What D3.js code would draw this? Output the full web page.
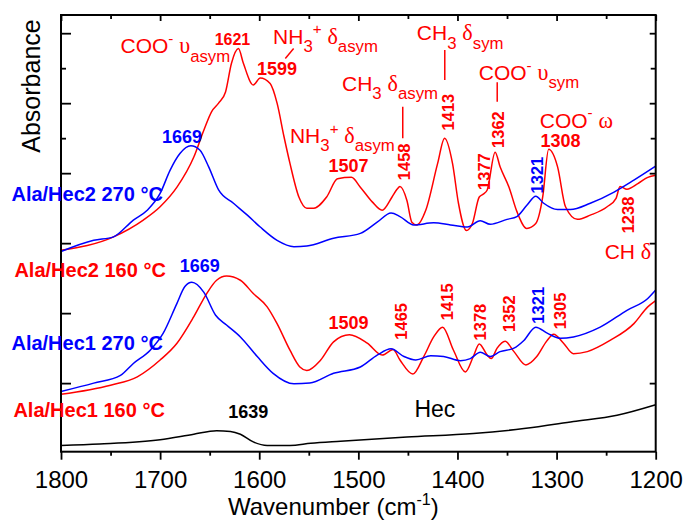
<!DOCTYPE html>
<html><head><meta charset="utf-8">
<script src="https://cdn.jsdelivr.net/npm/d3@7"></script>
<style>body{margin:0;background:#fff}svg{display:block}text{white-space:pre}</style>
</head><body><svg id="chart" width="684" height="522"></svg>
<script>
// ---------- data ----------
const xTicks = [1800, 1700, 1600, 1500, 1400, 1300, 1200];
const xMinorTicks = [1750, 1650, 1550, 1450, 1350, 1250];
const yTicks = [0, 1, 2, 3, 4, 5];
const yMinorTicks = [3.5, 4.5];

const hec = [[1800,-0.89],[1761,-0.87],[1700,-0.81],[1666,-0.73],[1643,-0.68],[1629,-0.69],[1619,-0.73],[1606,-0.84],[1592,-0.89],[1569,-0.89],[1548,-0.86],[1518,-0.83],[1451,-0.77],[1384,-0.72],[1333,-0.65],[1283,-0.55],[1239,-0.46],[1200,-0.31]];

const hec1_160 = [[1800,-0.16],[1750,-0.03],[1723,0.09],[1700,0.33],[1683,0.57],[1666,0.95],[1653,1.28],[1643,1.47],[1633,1.53],[1619,1.47],[1606,1.28],[1592,1.09],[1582,0.85],[1569,0.47],[1559,0.23],[1552,0.18],[1538,0.33],[1525,0.59],[1509,0.69],[1491,0.57],[1476,0.40],[1465,0.48],[1458,0.33],[1445,0.13],[1434,0.38],[1424,0.66],[1415,0.80],[1404,0.47],[1392,0.16],[1384,0.38],[1378,0.56],[1370,0.40],[1366,0.35],[1360,0.50],[1352,0.60],[1343,0.45],[1331,0.26],[1320,0.38],[1310,0.60],[1303,0.70],[1293,0.57],[1283,0.42],[1269,0.45],[1246,0.61],[1222,0.85],[1208,1.09],[1200,1.18]];

const hec1_270 = [[1800,-0.12],[1767,0.00],[1740,0.11],[1727,0.28],[1710,0.47],[1697,0.71],[1683,1.14],[1675,1.38],[1668,1.44],[1656,1.30],[1644,0.97],[1633,0.83],[1619,0.66],[1602,0.38],[1586,0.14],[1565,-0.01],[1549,0.00],[1525,0.14],[1498,0.23],[1481,0.40],[1467,0.49],[1454,0.38],[1442,0.33],[1427,0.39],[1414,0.38],[1397,0.32],[1387,0.35],[1377,0.44],[1367,0.38],[1357,0.45],[1343,0.50],[1333,0.61],[1321,0.80],[1309,0.71],[1296,0.64],[1283,0.66],[1256,0.80],[1229,1.04],[1208,1.21],[1200,1.33]];

const hec2_160 = [[1800,1.90],[1747,2.09],[1717,2.33],[1700,2.52],[1683,2.80],[1666,3.23],[1656,3.61],[1648,3.88],[1641,4.00],[1634,4.16],[1628,4.57],[1621,4.78],[1616,4.57],[1606,4.26],[1599,4.36],[1589,4.28],[1582,4.00],[1575,3.52],[1569,3.14],[1560,2.66],[1552,2.50],[1545,2.50],[1532,2.66],[1521,2.92],[1507,2.94],[1498,2.80],[1486,2.59],[1476,2.47],[1466,2.66],[1461,2.77],[1458,2.81],[1451,2.61],[1446,2.30],[1441,2.26],[1432,2.47],[1420,3.14],[1413,3.50],[1405,3.14],[1399,2.57],[1391,2.18],[1385,2.28],[1378,2.66],[1374,2.70],[1370,2.76],[1362,3.30],[1357,3.09],[1348,2.80],[1340,2.45],[1330,2.21],[1321,2.28],[1314,2.66],[1308,3.34],[1299,3.09],[1291,2.52],[1279,2.34],[1266,2.40],[1249,2.52],[1240,2.64],[1236,2.81],[1229,2.77],[1218,2.85],[1208,2.94],[1200,2.97]];

const hec2_270 = [[1800,1.88],[1767,2.04],[1747,2.09],[1727,2.33],[1713,2.47],[1700,2.71],[1690,3.04],[1680,3.28],[1669,3.39],[1660,3.33],[1651,3.09],[1641,2.76],[1626,2.57],[1612,2.40],[1599,2.23],[1582,2.04],[1565,1.95],[1552,1.96],[1525,2.07],[1498,2.14],[1481,2.30],[1467,2.43],[1458,2.38],[1444,2.26],[1424,2.29],[1407,2.26],[1390,2.23],[1377,2.32],[1367,2.27],[1350,2.34],[1340,2.38],[1330,2.54],[1321,2.67],[1313,2.57],[1299,2.48],[1286,2.48],[1266,2.57],[1242,2.73],[1222,2.90],[1200,3.10]];

const seriesNames = ["Hec", "Ala/Hec1 160 °C", "Ala/Hec1 270 °C", "Ala/Hec2 160 °C", "Ala/Hec2 270 °C"];
const seriesColors = ["#000000", "#ff0000", "#0000ff", "#ff0000", "#0000ff"];
const seriesData = [hec, hec1_160, hec1_270, hec2_160, hec2_270];

// series name labels at [wn, value] (Hec is labelled separately)
const seriesLabelPos = [null, [1848, -0.49], [1850, 0.47], [1847, 1.52], [1850, 2.60]];

// horizontal peak labels: text, wn, value, color, size
const peakLabels = [
  ["1669", 1678, 3.43, "#0000ff", 18],
  ["1621", 1627, 4.83, "#ff0000", 16],
  ["1599", 1582, 4.40, "#ff0000", 18],
  ["1507", 1510, 3.02, "#ff0000", 18],
  ["1308", 1296, 3.38, "#ff0000", 18],
  ["1669", 1660, 1.59, "#0000ff", 18],
  ["1509", 1510, 0.78, "#ff0000", 18],
  ["1639", 1611, -0.50, "#000000", 18]
];
// vertical peak labels: text, wn (baseline), value (bottom), color
const vPeakLabels = [
  ["1458", 1448, 2.90, "#ff0000"],
  ["1413", 1403, 3.61, "#ff0000"],
  ["1377", 1367, 2.76, "#ff0000"],
  ["1362", 1353, 3.36, "#ff0000"],
  ["1321", 1314, 2.71, "#0000ff"],
  ["1238", 1222, 2.14, "#ff0000"],
  ["1465", 1451, 0.62, "#ff0000"],
  ["1415", 1405, 0.90, "#ff0000"],
  ["1378", 1371, 0.61, "#ff0000"],
  ["1352", 1342, 0.73, "#ff0000"],
  ["1321", 1313, 0.85, "#0000ff"],
  ["1305", 1291, 0.77, "#ff0000"]
];
// band assignments (rich text): segments, wn, value
const bandLabels = [
  [[["COO"],["-","sup"],[" "],["υ","g"],["asym","sub"]], 1740, 4.71],
  [[["NH"],["3","sub"],["+","sup"],[" "],["δ","g"],["asym","sub"]], 1586, 4.85],
  [[["CH"],["3","sub"],[" "],["δ","g"],["sym","sub"]], 1441, 4.90],
  [[["CH"],["3","sub"],[" "],["δ","g"],["asym","sub"]], 1516.5, 4.18],
  [[["NH"],["3","sub"],["+","sup"],[" "],["δ","g"],["asym","sub"]], 1569, 3.43],
  [[["COO"],["-","sup"],[" "],["υ","g"],["sym","sub"]], 1378.5, 4.33],
  [[["COO"],["-","sup"],[" "],["ω","g"]], 1317, 3.65],
  [[["CH "],["δ","g"]], 1251.5, 1.78]
];
// connector lines: wn1, v1, wn2, v2
const connectors = [
  [1573.7, 4.64, 1565.3, 4.78],
  [1412.8, 4.76, 1412.8, 4.33],
  [1455.2, 3.95, 1455.2, 3.50],
  [1359.9, 4.30, 1359.9, 4.02]
];
const hecLabel = ["Hec", 1443.4, -0.49];

// ---------- chart ----------
const svg = d3.select("#chart");
const SANS = "'Liberation Sans', Arial, sans-serif";
const SERIF = "'Liberation Serif', 'Times New Roman', serif";
const x = d3.scaleLinear().domain([1800, 1200]).range([61, 655.7]);
const y = d3.scaleLinear().domain([-0.98, 5.26]).range([451.7, 15]);
const [x0, x1] = x.range(), [yb, yt] = y.range();

function styleAxis(g) {
  g.select(".domain").remove();
  g.selectAll(".tick line").attr("stroke", "#000").attr("stroke-width", 1.8);
}
// bottom
svg.append("g").attr("transform", `translate(0,${yb})`)
  .call(d3.axisBottom(x).tickValues(xTicks).tickSize(8).tickPadding(11).tickFormat(d3.format("d")))
  .call(styleAxis)
  .call(g => g.selectAll("text").attr("font-size", 24).attr("font-family", SANS).attr("fill", "#000"));
svg.append("g").attr("transform", `translate(0,${yb})`)
  .call(d3.axisBottom(x).tickValues(xMinorTicks).tickSize(4).tickFormat("")).call(styleAxis);
// top
svg.append("g").attr("transform", `translate(0,${yt})`)
  .call(d3.axisTop(x).tickValues(xTicks).tickSize(-6).tickFormat("")).call(styleAxis);
svg.append("g").attr("transform", `translate(0,${yt})`)
  .call(d3.axisTop(x).tickValues(xMinorTicks).tickSize(-4).tickFormat("")).call(styleAxis);
// left
svg.append("g").attr("transform", `translate(${x0},0)`)
  .call(d3.axisLeft(y).tickValues(yTicks).tickSize(-10).tickFormat("")).call(styleAxis);
svg.append("g").attr("transform", `translate(${x0},0)`)
  .call(d3.axisLeft(y).tickValues(yMinorTicks).tickSize(-5).tickFormat("")).call(styleAxis);
// right
svg.append("g").attr("transform", `translate(${x1},0)`)
  .call(d3.axisRight(y).tickValues(yTicks).tickSize(-6).tickFormat("")).call(styleAxis);
svg.append("g").attr("transform", `translate(${x1},0)`)
  .call(d3.axisRight(y).tickValues(yMinorTicks).tickSize(-5).tickFormat("")).call(styleAxis);

// curves
const line = d3.line().x(d => x(d[0])).y(d => y(d[1])).curve(d3.curveMonotoneX);
seriesData.forEach((s, i) => {
  svg.append("path").datum(s).attr("d", line).attr("fill", "none")
    .attr("stroke", seriesColors[i]).attr("stroke-width", 1.5);
});

// frame
svg.append("rect").attr("x", x0).attr("y", yt).attr("width", x1 - x0).attr("height", yb - yt)
  .attr("fill", "none").attr("stroke", "#000").attr("stroke-width", 2);

// axis titles
svg.append("text").attr("transform", `translate(${x0 - 21.5},86) rotate(-90)`)
  .attr("text-anchor", "middle").attr("font-family", SANS).attr("font-size", 25).text("Absorbance");
{
  const t = svg.append("text").attr("x", 228).attr("y", 515).attr("font-family", SANS).attr("font-size", 24);
  t.append("tspan").text("Wavenumber (cm");
  t.append("tspan").attr("font-size", 16).attr("dy", -10).text("-1");
  t.append("tspan").attr("dy", 10).text(")");
}

// series labels
seriesNames.forEach((n, i) => {
  const p = seriesLabelPos[i];
  if (!p) return;
  svg.append("text").attr("x", x(p[0])).attr("y", y(p[1]))
    .attr("font-family", SANS).attr("font-weight", "bold").attr("font-size", 20)
    .attr("fill", seriesColors[i]).text(n);
});
svg.append("text").attr("x", x(hecLabel[1])).attr("y", y(hecLabel[2]))
  .attr("font-family", SANS).attr("font-size", 23).attr("fill", "#000").text(hecLabel[0]);

// peak labels
peakLabels.forEach(([t, wn, v, c, fs]) => {
  svg.append("text").attr("x", x(wn)).attr("y", y(v)).attr("text-anchor", "middle")
    .attr("font-family", SANS).attr("font-weight", "bold").attr("font-size", fs).attr("fill", c).text(t);
});
vPeakLabels.forEach(([t, wn, v, c]) => {
  svg.append("text").attr("transform", `translate(${x(wn)},${y(v)}) rotate(-90)`)
    .attr("font-family", SANS).attr("font-weight", "bold").attr("font-size", 16.5).attr("fill", c).text(t);
});

// band labels
const BASE = 21;
bandLabels.forEach(([segs, wn, v]) => {
  const t = svg.append("text").attr("x", x(wn)).attr("y", y(v))
    .attr("font-family", SANS).attr("font-size", BASE).attr("fill", "#ff0000");
  let off = 0;
  segs.forEach(([s, k]) => {
    const target = k === "sub" ? BASE * 0.4 : k === "sup" ? -BASE * 0.45 : 0;
    const ts = t.append("tspan").attr("dy", target - off).text(s);
    off = target;
    if (k === "sub") ts.attr("font-size", BASE * 0.8);
    if (k === "sup") ts.attr("font-size", BASE * 0.72);
    if (k === "g") ts.attr("font-family", SERIF).attr("font-size", BASE * 1.05);
  });
});
connectors.forEach(([a, b, c, d]) => {
  svg.append("line").attr("x1", x(a)).attr("y1", y(b)).attr("x2", x(c)).attr("y2", y(d))
    .attr("stroke", "#ff0000").attr("stroke-width", 1.5);
});
</script>
</body></html>
